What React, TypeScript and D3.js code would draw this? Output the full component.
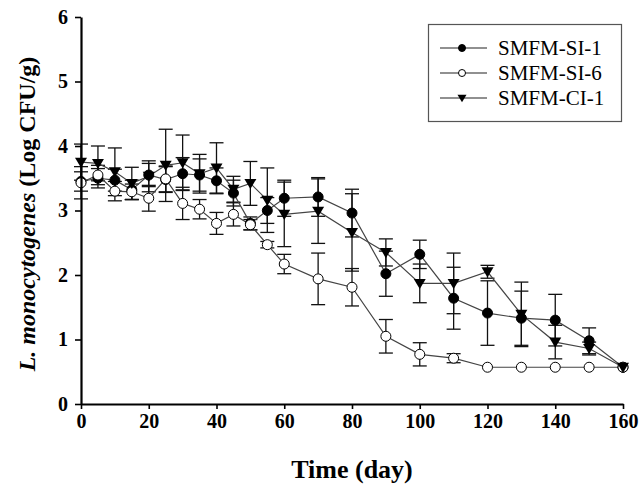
import React, { useEffect, useRef } from "react";
import * as d3 from "d3";

const days = [0, 5, 10, 15, 20, 25, 30, 35, 40, 45, 50, 55, 60, 70, 80, 90, 100, 110, 120, 130, 140, 150, 160];

const si1Mean = [3.45, 3.5, 3.47, 3.32, 3.55, 3.48, 3.57, 3.55, 3.46, 3.27, 2.8, 3.0, 3.19, 3.21, 2.96, 2.02, 2.32, 1.64, 1.41, 1.33, 1.3, 0.98, 0.57];
const si1Sd = [0.15, 0.15, 0.17, 0.15, 0.18, 0.2, 0.25, 0.25, 0.2, 0.2, 0.1, 0.2, 0.28, 0.3, 0.37, 0.35, 0.22, 0.48, 0.5, 0.42, 0.4, 0.2, 0];

const si6Mean = [3.43, 3.55, 3.3, 3.29, 3.19, 3.49, 3.11, 3.02, 2.8, 2.94, 2.78, 2.47, 2.17, 1.94, 1.81, 1.05, 0.77, 0.71, 0.57, 0.57, 0.57, 0.57, 0.57];
const si6Sd = [0.25, 0.15, 0.15, 0.12, 0.2, 0.2, 0.25, 0.15, 0.17, 0.18, 0.08, 0.05, 0.15, 0.4, 0.29, 0.26, 0.18, 0.07, 0, 0, 0, 0, 0];

const ci1Mean = [3.75, 3.73, 3.6, 3.42, 3.53, 3.7, 3.74, 3.57, 3.66, 3.33, 3.42, 3.16, 2.94, 2.99, 2.66, 2.35, 1.87, 1.87, 2.05, 1.39, 0.96, 0.86, 0.57];
const ci1Sd = [0.28, 0.27, 0.37, 0.25, 0.24, 0.56, 0.43, 0.3, 0.39, 0.2, 0.34, 0.5, 0.5, 0.5, 0.6, 0.21, 0.3, 0.47, 0.1, 0.5, 0.26, 0.1, 0];

const seriesNames = ["SMFM-SI-1", "SMFM-SI-6", "SMFM-CI-1"];
const xTicks = [0, 20, 40, 60, 80, 100, 120, 140, 160];
const yTicks = [0, 1, 2, 3, 4, 5, 6];

const App = () => {
  const ref = useRef<SVGSVGElement>(null);

  useEffect(() => {
    const svg = d3.select(ref.current);
    svg.selectAll("*").remove();

    const font = "'Liberation Serif', 'Times New Roman', serif";
    const x = d3.scaleLinear().domain([0, 160]).range([81, 623]);
    const y = d3.scaleLinear().domain([0, 6]).range([404, 17]);

    const series = [
      { name: seriesNames[0], mean: si1Mean, sd: si1Sd, shape: "circle", fill: "#000" },
      { name: seriesNames[1], mean: si6Mean, sd: si6Sd, shape: "circle", fill: "#fff" },
      { name: seriesNames[2], mean: ci1Mean, sd: ci1Sd, shape: "triangle", fill: "#000" },
    ];

    const tri = (cx: number, cy: number, s: number) =>
      `M${cx - s},${cy - s * 0.75}L${cx + s},${cy - s * 0.75}L${cx},${cy + s * 0.95}Z`;

    // error bars
    const capW = 7;
    series.forEach((s) => {
      const g = svg.append("g");
      days.forEach((d, i) => {
        if (!s.sd[i]) return;
        const top = y(s.mean[i] + s.sd[i]);
        const bot = y(s.mean[i] - s.sd[i]);
        const cx = x(d);
        g.append("line").attr("x1", cx).attr("x2", cx).attr("y1", top).attr("y2", bot)
          .attr("stroke", "#111").attr("stroke-width", 1.3);
        [top, bot].forEach((yy) =>
          g.append("line").attr("x1", cx - capW).attr("x2", cx + capW).attr("y1", yy).attr("y2", yy)
            .attr("stroke", "#111").attr("stroke-width", 1.3));
      });
    });

    // lines
    const line = d3.line<number>().x((_, i) => x(days[i])).y((v) => y(v));
    series.forEach((s) => {
      svg.append("path").datum(s.mean).attr("d", line).attr("fill", "none")
        .attr("stroke", "#444").attr("stroke-width", 1.2);
    });

    // markers
    series.forEach((s) => {
      const g = svg.append("g");
      days.forEach((d, i) => {
        if (s.shape === "circle") {
          g.append("circle").attr("cx", x(d)).attr("cy", y(s.mean[i])).attr("r", 5)
            .attr("fill", s.fill).attr("stroke", "#000").attr("stroke-width", 1);
        } else {
          g.append("path").attr("d", tri(x(d), y(s.mean[i]), 6)).attr("fill", "#000");
        }
      });
    });

    // axes
    const xAxis = svg.append("g").attr("transform", "translate(0,404)")
      .call(d3.axisBottom(x).tickValues(xTicks).tickFormat(d3.format("d")).tickSize(5).tickSizeOuter(0).tickPadding(5));
    const yAxis = svg.append("g").attr("transform", "translate(81,0)")
      .call(d3.axisLeft(y).tickValues(yTicks).tickFormat(d3.format("d")).tickSize(6).tickSizeOuter(0).tickPadding(7));
    [xAxis, yAxis].forEach((a) => {
      a.select(".domain").attr("stroke", "#000").attr("stroke-width", 2.2);
      a.selectAll(".tick line").attr("stroke", "#000").attr("stroke-width", 1.6);
      a.selectAll(".tick text").attr("font-family", font).attr("font-size", 20)
        .attr("font-weight", "bold").attr("fill", "#000");
    });

    // axis titles
    svg.append("text").attr("x", 352).attr("y", 478).attr("text-anchor", "middle")
      .attr("font-family", font).attr("font-size", 26).attr("font-weight", "bold").text("Time (day)");
    const yt = svg.append("text").attr("transform", "translate(35,214) rotate(-90)")
      .attr("text-anchor", "middle").attr("font-family", font).attr("font-size", 24).attr("font-weight", "bold");
    yt.append("tspan").attr("font-style", "italic").text("L. monocytogenes");
    yt.append("tspan").text(" (Log CFU/g)");

    // legend
    const lg = svg.append("g");
    lg.append("rect").attr("x", 428.5).attr("y", 24.5).attr("width", 193).attr("height", 97)
      .attr("fill", "#fff").attr("stroke", "#555").attr("stroke-width", 1.2);
    series.forEach((s, i) => {
      const cy = 48 + i * 25;
      lg.append("line").attr("x1", 440).attr("x2", 487).attr("y1", cy).attr("y2", cy)
        .attr("stroke", "#222").attr("stroke-width", 1.2);
      if (s.shape === "circle") {
        lg.append("circle").attr("cx", 462).attr("cy", cy).attr("r", 3.5)
          .attr("fill", s.fill).attr("stroke", "#000").attr("stroke-width", 1);
      } else {
        lg.append("path").attr("d", tri(462, cy, 4.5)).attr("fill", "#000");
      }
      lg.append("text").attr("x", 498).attr("y", cy + 7).attr("font-family", font)
        .attr("font-size", 21).attr("fill", "#000").text(s.name);
    });
  }, []);

  return (
    <svg ref={ref} width={644} height={486} style={{ position: "absolute", left: 0, top: 0, background: "#fff" }} />
  );
};

export default App;
